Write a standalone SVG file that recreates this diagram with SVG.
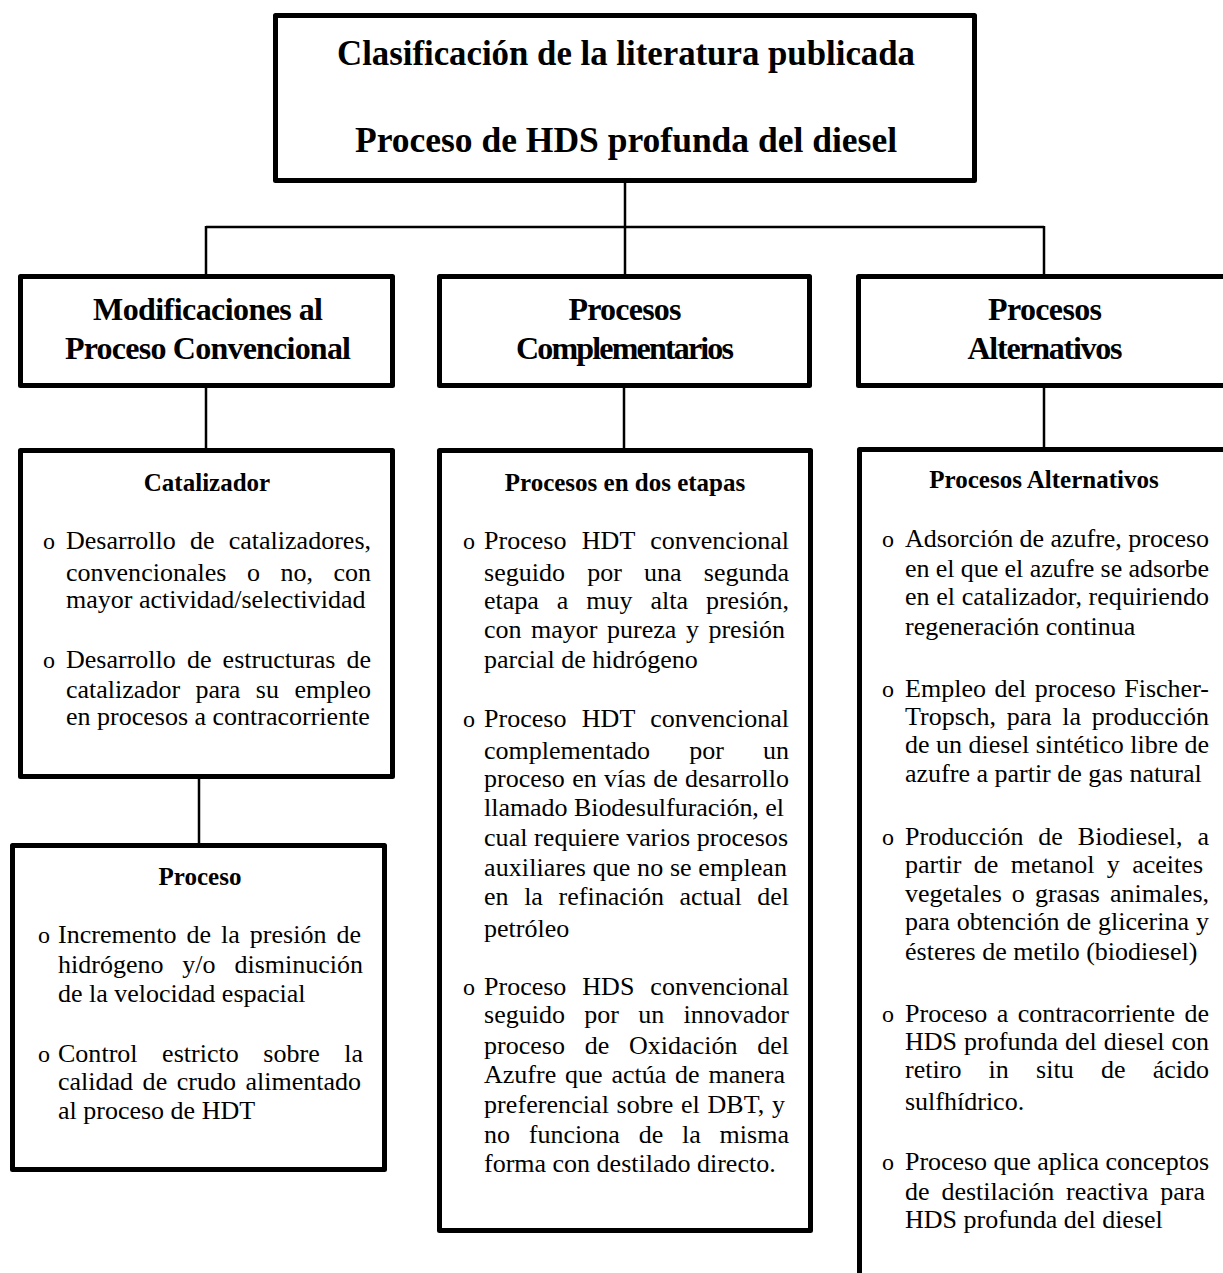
<svg xmlns="http://www.w3.org/2000/svg" width="1223" height="1273" viewBox="0 0 1223 1273">
<style>
.box{fill:#fff;stroke:#000;stroke-width:5;stroke-linejoin:round}
.ln{fill:none;stroke:#000;stroke-width:2.5}
text{font-family:"Liberation Serif","Times New Roman",serif;fill:#000}
.t{font-size:36px;font-weight:bold;text-anchor:middle}
.c{font-size:32px;font-weight:bold;text-anchor:middle}
.h{font-size:25px;font-weight:bold;text-anchor:middle}
.p{font-size:26px}
.b{font-size:24px}
</style>
<rect width="1223" height="1273" fill="#fff"/>
<g id="connectors">
<path class="ln" d="M625 183V227M206 227H1044M206 226V274M625 226V274M1044 226V274M206 388V448M624 388V448M1044 388V447M199 779V843"/>
</g>
<g id="root">
<rect class="box" x="275.5" y="15.5" width="699" height="165"/>
<text class="t" x="626" y="65" textLength="578" lengthAdjust="spacingAndGlyphs">Clasificación de la literatura publicada</text>
<text class="t" x="626" y="152" textLength="542" lengthAdjust="spacingAndGlyphs">Proceso de HDS profunda del diesel</text>
</g>
<g id="cat-modificaciones">
<rect class="box" x="20.5" y="276.5" width="372" height="109"/>
<text class="c" x="208" y="320" textLength="230" lengthAdjust="spacing">Modificaciones al</text>
<text class="c" x="208" y="359" textLength="286" lengthAdjust="spacing">Proceso Convencional</text>
</g>
<g id="cat-complementarios">
<rect class="box" x="439.5" y="276.5" width="370" height="109"/>
<text class="c" x="625" y="320" textLength="113" lengthAdjust="spacing">Procesos</text>
<text class="c" x="625" y="359" textLength="218" lengthAdjust="spacing">Complementarios</text>
</g>
<g id="cat-alternativos">
<rect class="box" x="858.5" y="276.5" width="400" height="109"/>
<text class="c" x="1045" y="320" textLength="114" lengthAdjust="spacing">Procesos</text>
<text class="c" x="1045" y="359" textLength="155" lengthAdjust="spacing">Alternativos</text>
</g>
<g id="det-catalizador">
<rect class="box" x="20.5" y="450.5" width="372" height="326"/>
<text class="h" x="207" y="491">Catalizador</text>
<text class="b" x="43" y="549">o</text>
<text class="p" x="66" y="549" textLength="305" lengthAdjust="spacing" style="word-spacing:7.7px">Desarrollo de catalizadores,</text>
<text class="p" x="66" y="581" textLength="305" lengthAdjust="spacing" style="word-spacing:14px">convencionales o no, con</text>
<text class="p" x="66" y="608">mayor actividad/selectividad</text>
<text class="b" x="43" y="668">o</text>
<text class="p" x="66" y="668" textLength="305" lengthAdjust="spacing" style="word-spacing:4.6px">Desarrollo de estructuras de</text>
<text class="p" x="66" y="698" textLength="305" lengthAdjust="spacing" style="word-spacing:9px">catalizador para su empleo</text>
<text class="p" x="66" y="725">en procesos a contracorriente</text>
</g>
<g id="det-proceso">
<rect class="box" x="12.5" y="845.5" width="372" height="324"/>
<text class="h" x="200" y="885">Proceso</text>
<text class="b" x="38" y="943">o</text>
<text class="p" x="58" y="943" textLength="303" lengthAdjust="spacing" style="word-spacing:3.5px">Incremento de la presión de</text>
<text class="p" x="58" y="973" textLength="305" lengthAdjust="spacing" style="word-spacing:12.4px">hidrógeno y/o disminución</text>
<text class="p" x="58" y="1002">de la velocidad espacial</text>
<text class="b" x="38" y="1062">o</text>
<text class="p" x="58" y="1062" textLength="305" lengthAdjust="spacing" style="word-spacing:18px">Control estricto sobre la</text>
<text class="p" x="58" y="1090" textLength="303" lengthAdjust="spacing" style="word-spacing:3px">calidad de crudo alimentado</text>
<text class="p" x="58" y="1119">al proceso de HDT</text>
</g>
<g id="det-dos-etapas">
<rect class="box" x="439.5" y="450.5" width="371" height="780"/>
<text class="h" x="625" y="491">Procesos en dos etapas</text>
<text class="b" x="463" y="549">o</text>
<text class="p" x="484" y="549" textLength="305" lengthAdjust="spacing" style="word-spacing:8.8px">Proceso HDT convencional</text>
<text class="p" x="484" y="581" textLength="305" lengthAdjust="spacing" style="word-spacing:15.7px">seguido por una segunda</text>
<text class="p" x="484" y="609" textLength="305" lengthAdjust="spacing" style="word-spacing:11.4px">etapa a muy alta presión,</text>
<text class="p" x="484" y="638" textLength="301" lengthAdjust="spacing" style="word-spacing:3px">con mayor pureza y presión</text>
<text class="p" x="484" y="668">parcial de hidrógeno</text>
<text class="b" x="463" y="727">o</text>
<text class="p" x="484" y="727" textLength="305" lengthAdjust="spacing" style="word-spacing:8.8px">Proceso HDT convencional</text>
<text class="p" x="484" y="759" textLength="305" lengthAdjust="spacing" style="word-spacing:32.6px">complementado por un</text>
<text class="p" x="484" y="787" textLength="305" lengthAdjust="spacing" style="word-spacing:0.8px">proceso en vías de desarrollo</text>
<text class="p" x="484" y="816" textLength="300" lengthAdjust="spacing">llamado Biodesulfuración, el</text>
<text class="p" x="484" y="846" textLength="304" lengthAdjust="spacing">cual requiere varios procesos</text>
<text class="p" x="484" y="876" textLength="303" lengthAdjust="spacing">auxiliares que no se emplean</text>
<text class="p" x="484" y="905" textLength="305" lengthAdjust="spacing" style="word-spacing:9.1px">en la refinación actual del</text>
<text class="p" x="484" y="937">petróleo</text>
<text class="b" x="463" y="995">o</text>
<text class="p" x="484" y="995" textLength="305" lengthAdjust="spacing" style="word-spacing:9.5px">Proceso HDS convencional</text>
<text class="p" x="484" y="1023" textLength="305" lengthAdjust="spacing" style="word-spacing:12.8px">seguido por un innovador</text>
<text class="p" x="484" y="1054" textLength="305" lengthAdjust="spacing" style="word-spacing:13.3px">proceso de Oxidación del</text>
<text class="p" x="484" y="1083" textLength="301" lengthAdjust="spacing" style="word-spacing:2.3px">Azufre que actúa de manera</text>
<text class="p" x="484" y="1113" textLength="301" lengthAdjust="spacing" style="word-spacing:1.1px">preferencial sobre el DBT, y</text>
<text class="p" x="484" y="1143" textLength="305" lengthAdjust="spacing" style="word-spacing:12.3px">no funciona de la misma</text>
<text class="p" x="484" y="1172">forma con destilado directo.</text>
</g>
<g id="det-alternativos">
<rect class="box" x="859.5" y="449.5" width="400" height="900"/>
<text class="h" x="1044" y="488">Procesos Alternativos</text>
<text class="b" x="882" y="547">o</text>
<text class="p" x="905" y="547" textLength="304" lengthAdjust="spacing">Adsorción de azufre, proceso</text>
<text class="p" x="905" y="577" textLength="304" lengthAdjust="spacing">en el que el azufre se adsorbe</text>
<text class="p" x="905" y="605" textLength="304" lengthAdjust="spacing">en el catalizador, requiriendo</text>
<text class="p" x="905" y="635">regeneración continua</text>
<text class="b" x="882" y="697">o</text>
<text class="p" x="905" y="697" textLength="304" lengthAdjust="spacing" style="word-spacing:1.9px">Empleo del proceso Fischer-</text>
<text class="p" x="905" y="725" textLength="304" lengthAdjust="spacing" style="word-spacing:4.1px">Tropsch, para la producción</text>
<text class="p" x="905" y="753" textLength="304" lengthAdjust="spacing">de un diesel sintético libre de</text>
<text class="p" x="905" y="782">azufre a partir de gas natural</text>
<text class="b" x="882" y="845">o</text>
<text class="p" x="905" y="845" textLength="304" lengthAdjust="spacing" style="word-spacing:8.4px">Producción de Biodiesel, a</text>
<text class="p" x="905" y="873" textLength="298" lengthAdjust="spacing" style="word-spacing:5.9px">partir de metanol y aceites</text>
<text class="p" x="905" y="902" textLength="304" lengthAdjust="spacing" style="word-spacing:3.6px">vegetales o grasas animales,</text>
<text class="p" x="905" y="930" textLength="304" lengthAdjust="spacing" style="word-spacing:0.5px">para obtención de glicerina y</text>
<text class="p" x="905" y="960">ésteres de metilo (biodiesel)</text>
<text class="b" x="882" y="1022">o</text>
<text class="p" x="905" y="1022" textLength="304" lengthAdjust="spacing" style="word-spacing:2.9px">Proceso a contracorriente de</text>
<text class="p" x="905" y="1050" textLength="304" lengthAdjust="spacing" style="word-spacing:0.5px">HDS profunda del diesel con</text>
<text class="p" x="905" y="1078" textLength="304" lengthAdjust="spacing" style="word-spacing:20.7px">retiro in situ de ácido</text>
<text class="p" x="905" y="1110">sulfhídrico.</text>
<text class="b" x="882" y="1170">o</text>
<text class="p" x="905" y="1170" textLength="304" lengthAdjust="spacing">Proceso que aplica conceptos</text>
<text class="p" x="905" y="1200" textLength="300" lengthAdjust="spacing" style="word-spacing:5.4px">de destilación reactiva para</text>
<text class="p" x="905" y="1228">HDS profunda del diesel</text>
</g>
</svg>
